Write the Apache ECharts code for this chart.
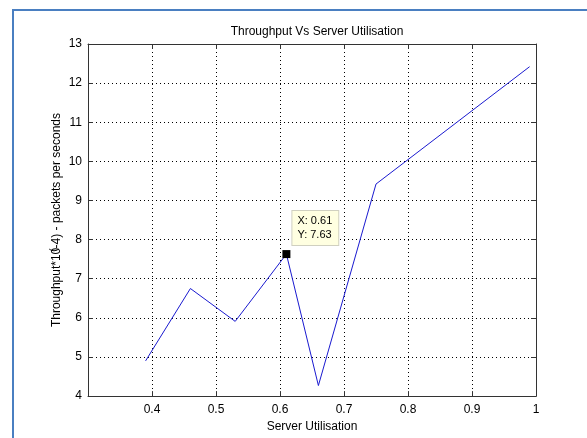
<!DOCTYPE html>
<html>
<head>
<meta charset="utf-8">
<script src="https://cdn.jsdelivr.net/npm/echarts@6/dist/echarts.min.js"></script>
<style>
html, body { margin: 0; padding: 0; background: #fff; }
#chart { width: 587px; height: 438px; }
</style>
</head>
<body>
<div id="chart"></div>
<script>
// server utilisation vs throughput
var utilisation = [0.39, 0.46, 0.53, 0.61, 0.66, 0.75, 0.99];
var throughput = [4.9, 6.75, 5.91, 7.63, 4.27, 9.42, 12.42];
var cursorPoint = [0.61, 7.63];
var xTicks = [0.4, 0.5, 0.6, 0.7, 0.8, 0.9, 1];

var font = 'Arial, "Liberation Sans", sans-serif';
var chart = echarts.init(document.getElementById('chart'));

var lineData = utilisation.map(function (u, i) {
    return [u, throughput[i]];
});

var tickStyle = { inside: true, length: 5, lineStyle: { color: '#333' } };
var gridLine = { show: true, lineStyle: { color: '#000', type: [1, 3], width: 1 } };

var option = {
    backgroundColor: '#fff',
    animation: false,
    title: {
        text: 'Throughput Vs Server Utilisation',
        left: 312,
        textAlign: 'center',
        top: 21,
        textStyle: { fontFamily: font, fontSize: 12, fontWeight: 'normal', color: '#000' }
    },
    grid: { left: 88, top: 44, right: 51, bottom: 40 },
    xAxis: [{
        type: 'value',
        min: 0.3,
        max: 1,
        interval: 0.1,
        name: 'Server Utilisation',
        nameLocation: 'middle',
        nameGap: 23,
        nameTextStyle: { fontFamily: font, fontSize: 12, color: '#000' },
        axisLine: { lineStyle: { color: '#333' } },
        axisTick: tickStyle,
        axisLabel: {
            fontFamily: font, fontSize: 12, color: '#000', margin: 8,
            formatter: function (v) {
                var r = Math.round(v * 10) / 10;
                return xTicks.indexOf(r) < 0 ? '' : String(r);
            }
        },
        splitLine: gridLine
    }, {
        type: 'value',
        position: 'top',
        min: 0.3,
        max: 1,
        interval: 0.1,
        axisLine: { show: true, onZero: false, lineStyle: { color: '#333' } },
        axisTick: tickStyle,
        axisLabel: { show: false },
        splitLine: { show: false }
    }],
    yAxis: [{
        type: 'value',
        min: 4,
        max: 13,
        interval: 1,
        name: '{a|Throughput*10}{s|(}{a|-4) - packets per seconds}',
        nameLocation: 'middle',
        nameGap: 23,
        nameMoveOverlap: false,
        nameTextStyle: {
            fontFamily: font, fontSize: 12, color: '#000',
            rich: {
                a: { fontFamily: font, fontSize: 12, color: '#000' },
                s: { fontFamily: font, fontSize: 10, color: '#000', padding: [0, 0, 6, -4] }
            }
        },
        axisLine: { show: true, lineStyle: { color: '#333' } },
        axisTick: tickStyle,
        axisLabel: { fontFamily: font, fontSize: 12, color: '#000', margin: 6 },
        splitLine: gridLine
    }, {
        type: 'value',
        position: 'right',
        min: 4,
        max: 13,
        interval: 1,
        axisLine: { show: true, onZero: false, lineStyle: { color: '#333' } },
        axisTick: tickStyle,
        axisLabel: { show: false },
        splitLine: { show: false }
    }],
    series: [{
        type: 'line',
        data: lineData,
        symbol: 'none',
        lineStyle: { color: '#1a1ad0', width: 1 }
    }, {
        type: 'scatter',
        data: [cursorPoint],
        symbol: 'rect',
        symbolSize: 8,
        itemStyle: { color: '#000', opacity: 1, borderWidth: 0 },
        label: {
            show: true,
            position: [10, -39],
            formatter: 'X: ' + cursorPoint[0] + '\nY: ' + cursorPoint[1],
            fontFamily: font,
            fontSize: 11,
            lineHeight: 14,
            color: '#000',
            backgroundColor: '#ffffe1',
            borderColor: '#d0d0c0',
            borderWidth: 1,
            padding: [3, 6, 3, 5]
        },
        z: 5
    }],
    graphic: [
        { type: 'line', shape: { x1: 12, y1: 10, x2: 587, y2: 10 }, style: { stroke: '#4a7fc1', lineWidth: 2 } },
        { type: 'line', shape: { x1: 13, y1: 9, x2: 13, y2: 438 }, style: { stroke: '#4a7fc1', lineWidth: 2 } }
    ]
};

chart.setOption(option);
</script>
</body>
</html>
